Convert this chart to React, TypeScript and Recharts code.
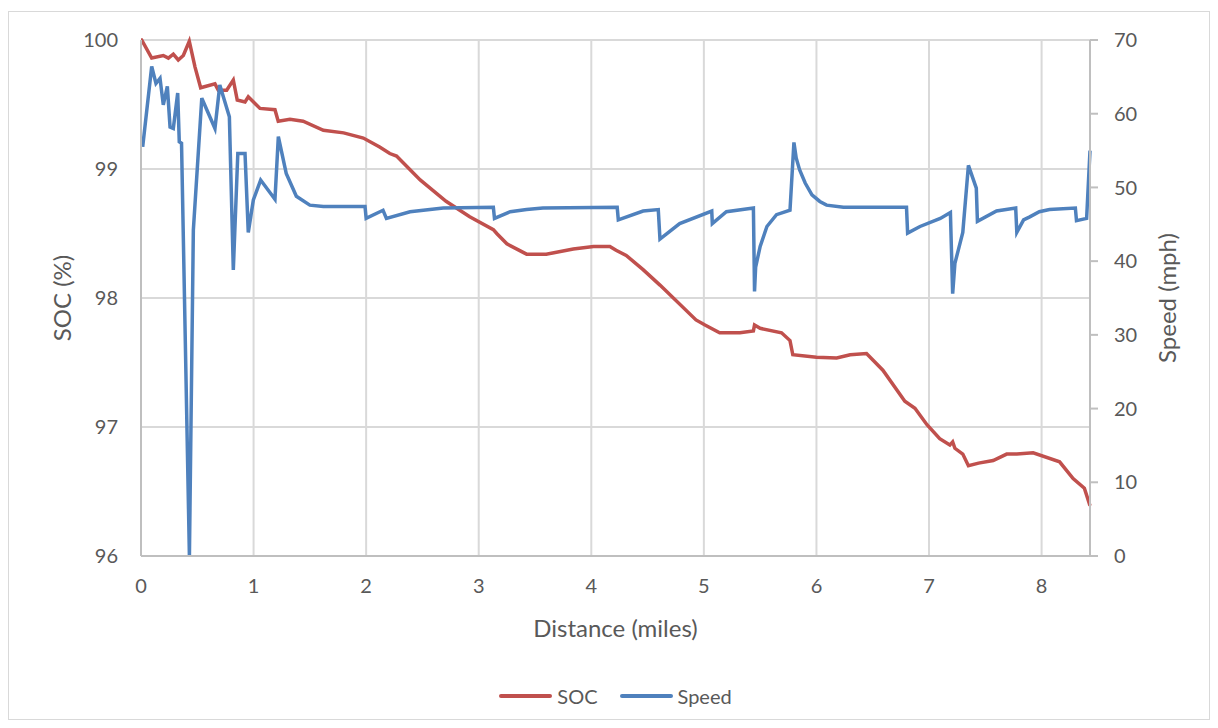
import { CartesianGrid, Legend, Line, LineChart, XAxis, YAxis } from 'recharts';

// distance (miles) / state of charge (%)
const socDistance = [
  0, 0.006, 0.095, 0.198, 0.243, 0.287, 0.331, 0.376, 0.429, 0.48, 0.53, 0.657, 0.687, 0.761, 0.82,
  0.855, 0.924, 0.953, 1.057, 1.19, 1.219, 1.323, 1.44, 1.62, 1.8, 1.975, 2.12, 2.21, 2.27, 2.48,
  2.71, 2.92, 3.13, 3.16, 3.25, 3.425, 3.6, 3.84, 4.02, 4.165, 4.22, 4.31, 4.46, 4.61, 4.93, 5.01,
  5.14, 5.32, 5.44, 5.45, 5.5, 5.69, 5.765, 5.79, 6.0, 6.18, 6.3, 6.445, 6.59, 6.785, 6.875, 6.98,
  7.095, 7.185, 7.21, 7.23, 7.3, 7.35, 7.44, 7.57, 7.69, 7.78, 7.925, 8.16, 8.28, 8.38, 8.43,
];
const socValues = [
  100, 100, 99.86, 99.88, 99.86, 99.89, 99.845, 99.88, 99.99, 99.79, 99.63, 99.66, 99.61, 99.61, 99.69,
  99.535, 99.52, 99.56, 99.47, 99.46, 99.37, 99.385, 99.37, 99.3, 99.28, 99.24, 99.17, 99.12, 99.1, 98.915,
  98.75, 98.63, 98.53, 98.5, 98.42, 98.34, 98.34, 98.38, 98.4, 98.4, 98.37, 98.33, 98.22, 98.1, 97.83, 97.79,
  97.73, 97.73, 97.745, 97.79, 97.765, 97.73, 97.67, 97.56, 97.54, 97.535, 97.56, 97.57, 97.44, 97.2, 97.145, 97.02,
  96.91, 96.86, 96.885, 96.835, 96.79, 96.7, 96.72, 96.74, 96.79, 96.79, 96.8, 96.73, 96.6, 96.525, 96.39,
];

// distance (miles) / speed (mph)
const speedDistance = [
  0.015, 0.095, 0.133, 0.169, 0.198, 0.234, 0.258, 0.287, 0.326, 0.34, 0.36, 0.43, 0.465, 0.54,
  0.657, 0.7, 0.785, 0.82, 0.86, 0.924, 0.953, 0.998, 1.063, 1.19, 1.22, 1.29, 1.38, 1.5, 1.62,
  1.99, 2.0, 2.15, 2.18, 2.39, 2.685, 3.13, 3.14, 3.28, 3.425, 3.57, 4.23, 4.24, 4.46, 4.595, 4.61,
  4.785, 5.07, 5.075, 5.2, 5.44, 5.45, 5.46, 5.5, 5.56, 5.645, 5.765, 5.8, 5.82, 5.85, 5.9,
  5.96, 6.03, 6.09, 6.24, 6.8, 6.81, 6.92, 7.1, 7.19, 7.21, 7.23, 7.26, 7.3, 7.35, 7.42,
  7.43, 7.6, 7.77, 7.78, 7.84, 7.895, 7.98, 8.07, 8.3, 8.31, 8.4, 8.43,
];
const speedValues = [
  55.5, 66.4, 64.1, 64.8, 61.2, 63.7, 58.2, 58.0, 62.8, 56.2, 56.0, 0, 44.2, 62.1,
  58.0, 63.9, 59.6, 38.8, 54.6, 54.6, 43.9, 48.3, 51.0, 48.4, 56.9, 51.9, 48.8, 47.6, 47.4,
  47.4, 45.8, 46.9, 45.8, 46.7, 47.2, 47.3, 45.8, 46.7, 47.0, 47.2, 47.3, 45.6, 46.8, 47.0, 43.0,
  45.1, 46.8, 45.1, 46.7, 47.2, 35.9, 39.2, 42.0, 44.7, 46.3, 46.9, 56.1, 54.0, 52.4, 50.6,
  49.0, 48.1, 47.6, 47.3, 47.3, 43.8, 44.7, 45.8, 46.6, 35.6, 39.7, 41.5, 43.9, 53.0, 49.9,
  45.4, 46.8, 47.2, 43.9, 45.6, 46.0, 46.7, 47.0, 47.2, 45.5, 45.8, 55.0,
];

const distanceTicks = [0, 1, 2, 3, 4, 5, 6, 7, 8];
const socTicks = [96, 97, 98, 99, 100];
const speedTicks = [0, 10, 20, 30, 40, 50, 60, 70];

const socData = socDistance.map((d, i) => ({ d, v: socValues[i] }));
const speedData = speedDistance.map((d, i) => ({ d, v: speedValues[i] }));

const FONT = "Lato, 'Open Sans', sans-serif";
const TEXT = '#595959';
const SOC_COLOR = '#c0504d';
const SPEED_COLOR = '#4f81bd';
const AXIS = { stroke: '#bfbfbf', strokeWidth: 2 };

const tickStyle = { fill: TEXT, fontSize: 20, fontFamily: FONT };

function AxisTitle({ x, y, angle, text }: { x: number; y: number; angle: number; text: string }) {
  return (
    <text
      x={x}
      y={y}
      fill={TEXT}
      fontSize={24}
      fontFamily={FONT}
      textAnchor="middle"
      dominantBaseline="central"
      transform={angle ? `rotate(${angle}, ${x}, ${y})` : undefined}
    >
      {text}
    </text>
  );
}

function LegendContent() {
  const items = [
    { name: 'SOC', color: SOC_COLOR },
    { name: 'Speed', color: SPEED_COLOR },
  ];
  return (
    <div style={{ display: 'flex', justifyContent: 'center', gap: 22, fontFamily: FONT, fontSize: 20, color: TEXT }}>
      {items.map((item) => (
        <div key={item.name} style={{ display: 'flex', alignItems: 'center', gap: 5 }}>
          <span style={{ width: 53, height: 4, borderRadius: 2, background: item.color, display: 'inline-block' }} />
          {item.name}
        </div>
      ))}
    </div>
  );
}

export default function App() {
  return (
    <div style={{ width: 1200, height: 707, marginTop: 3, border: '1px solid #d9d9d9', background: '#fff' }}>
      <LineChart width={1200} height={707} margin={{ top: 28, right: 59, bottom: 5, left: 72 }}>
        <CartesianGrid yAxisId="soc" stroke="#d9d9d9" strokeWidth={2} />
        <XAxis
          type="number"
          dataKey="d"
          domain={[0, 8.43]}
          ticks={distanceTicks}
          height={128}
          tick={tickStyle}
          tickLine={false}
          tickMargin={17}
          axisLine={AXIS}
          label={({ viewBox }: any) => (
            <AxisTitle x={viewBox.x + viewBox.width / 2} y={viewBox.y + 71} angle={0} text="Distance (miles)" />
          )}
        />
        <YAxis
          yAxisId="soc"
          domain={[96, 100]}
          ticks={socTicks}
          width={60}
          tick={tickStyle}
          tickLine={false}
          tickMargin={17}
          axisLine={AXIS}
          label={({ viewBox }: any) => (
            <AxisTitle x={52} y={viewBox.y + viewBox.height / 2} angle={-90} text="SOC (%)" />
          )}
        />
        <YAxis
          yAxisId="speed"
          orientation="right"
          domain={[0, 70]}
          ticks={speedTicks}
          width={60}
          tick={tickStyle}
          tickLine={AXIS}
          tickSize={8}
          tickMargin={16}
          axisLine={AXIS}
          label={({ viewBox }: any) => (
            <AxisTitle x={1157} y={viewBox.y + viewBox.height / 2} angle={-90} text="Speed (mph)" />
          )}
        />
        <Legend verticalAlign="bottom" height={30} content={<LegendContent />} />
        <Line
          yAxisId="soc"
          data={socData}
          dataKey="v"
          name="SOC"
          type="linear"
          stroke={SOC_COLOR}
          strokeWidth={3.5}
          dot={false}
          isAnimationActive={false}
        />
        <Line
          yAxisId="speed"
          data={speedData}
          dataKey="v"
          name="Speed"
          type="linear"
          stroke={SPEED_COLOR}
          strokeWidth={3.5}
          dot={false}
          isAnimationActive={false}
        />
      </LineChart>
    </div>
  );
}
